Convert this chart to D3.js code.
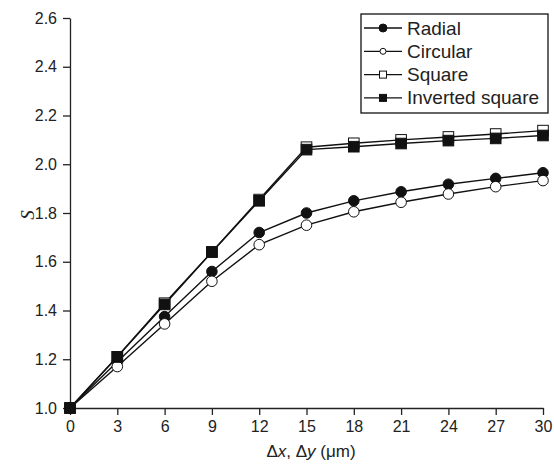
<!DOCTYPE html>
<html>
<head>
<meta charset="utf-8">
<script src="https://cdn.jsdelivr.net/npm/d3@7"></script>
<style>
  body { margin: 0; background: #fff; }
  svg text { font-family: "Liberation Sans", Arial, sans-serif; fill: #222; }
</style>
</head>
<body>
<figure style="margin:0"></figure>
<script>
// data
const xs = [0, 3, 6, 9, 12, 15, 18, 21, 24, 27, 30];
const radial   = [1.0, 1.19, 1.375, 1.56, 1.72, 1.80, 1.85, 1.887, 1.918, 1.942, 1.965];
const circular = [1.0, 1.17, 1.345, 1.52, 1.67, 1.75, 1.805, 1.844, 1.878, 1.908, 1.933];
const square   = [1.0, 1.21, 1.43, 1.64, 1.855, 2.07, 2.086, 2.10, 2.112, 2.124, 2.138];
const invSquare = [1.0, 1.21, 1.425, 1.64, 1.85, 2.06, 2.072, 2.085, 2.097, 2.106, 2.118];
const seriesNames = ["Radial", "Circular", "Square", "Inverted square"];
const xTicks = [0, 3, 6, 9, 12, 15, 18, 21, 24, 27, 30];
const yTicks = [1.0, 1.2, 1.4, 1.6, 1.8, 2.0, 2.2, 2.4, 2.6];

const width = 554, height = 466;
const padL = 70, padR = 543, padT = 18, padB = 408;

const svg = d3.select("figure").append("svg")
    .attr("width", width).attr("height", height);

const x = d3.scaleLinear().domain([0, 30]).range([padL, padR]);
const y = d3.scaleLinear().domain([1.0, 2.6]).range([padB, padT]);

// axes
const xAxis = svg.append("g")
    .attr("transform", "translate(0," + padB + ")")
    .call(d3.axisBottom(x).tickValues(xTicks).tickSize(7).tickPadding(6).tickSizeOuter(0));
const yAxis = svg.append("g")
    .attr("transform", "translate(" + padL + ",0)")
    .call(d3.axisLeft(y).tickValues(yTicks).tickFormat(d3.format(".1f")).tickSize(7).tickPadding(6).tickSizeOuter(0));
[xAxis, yAxis].forEach(a => {
    a.selectAll("path, line").attr("stroke", "#222").attr("stroke-width", 1.3);
    a.selectAll("text").style("font-size", "16px").attr("fill", "#222");
});

// axis labels
const xl = svg.append("text")
    .attr("x", 311).attr("y", 457)
    .attr("text-anchor", "middle")
    .style("font-size", "17px");
xl.append("tspan").text("\u0394");
xl.append("tspan").text("x").style("font-style", "italic");
xl.append("tspan").text(", \u0394");
xl.append("tspan").text("y").style("font-style", "italic");
xl.append("tspan").text(" (\u03bcm)");

svg.append("text")
    .attr("transform", "translate(34,215) rotate(-90)")
    .attr("text-anchor", "middle")
    .style("font-family", "'Liberation Serif', 'Times New Roman', serif")
    .style("font-style", "italic")
    .style("font-size", "19px")
    .text("S");

const series = [
    { name: seriesNames[0], vals: radial, shape: "circle", fill: "#111" },
    { name: seriesNames[1], vals: circular, shape: "circle", fill: "#fff" },
    { name: seriesNames[2], vals: square, shape: "square", fill: "#fff" },
    { name: seriesNames[3], vals: invSquare, shape: "square", fill: "#111" }
];

const line = d3.line().x((d, i) => x(xs[i])).y(d => y(d));

function drawMarker(g, s, cx, cy) {
    if (s.shape === "circle") {
        g.append("circle").attr("cx", cx).attr("cy", cy).attr("r", 5.3)
            .attr("fill", s.fill).attr("stroke", "#111").attr("stroke-width", 1);
    } else {
        g.append("rect").attr("x", cx - 5.3).attr("y", cy - 5.3).attr("width", 10.6).attr("height", 10.6)
            .attr("fill", s.fill).attr("stroke", "#111").attr("stroke-width", 1);
    }
}

series.forEach(s => {
    svg.append("path").datum(s.vals)
        .attr("d", line).attr("fill", "none")
        .attr("stroke", "#111").attr("stroke-width", 1.4);
});
series.forEach(s => {
    const g = svg.append("g");
    s.vals.forEach((v, i) => drawMarker(g, s, x(xs[i]), y(v)));
});

// legend
const lg = svg.append("g").attr("transform", "translate(361,14)");
lg.append("rect").attr("width", 187).attr("height", 99)
    .attr("fill", "#fff").attr("stroke", "#111").attr("stroke-width", 1.3);
series.forEach((s, i) => {
    const ry = 14 + i * 23.3;
    const row = lg.append("g");
    row.append("line").attr("x1", 3).attr("x2", 41).attr("y1", ry).attr("y2", ry)
        .attr("stroke", "#111").attr("stroke-width", 1.3);
    if (s.shape === "circle") {
        row.append("circle").attr("cx", 22).attr("cy", ry).attr("r", s.fill === "#fff" ? 3 : 4)
            .attr("fill", s.fill).attr("stroke", "#111");
    } else {
        row.append("rect").attr("x", 18.5).attr("y", ry - 3.5).attr("width", 7).attr("height", 7)
            .attr("fill", s.fill).attr("stroke", "#111");
    }
    row.append("text").attr("x", 46).attr("y", ry + 6.5)
        .style("font-size", "19px").text(s.name);
});
</script>
</body>
</html>
